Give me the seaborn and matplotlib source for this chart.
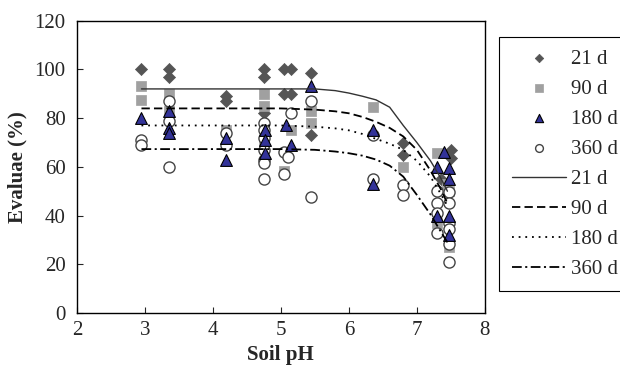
import pandas as pd
import matplotlib
matplotlib.use("Agg")
import matplotlib.pyplot as plt
import seaborn as sns

# measured points: soil pH vs Evaluae (%)
ph_21 = [2.95, 3.35, 3.35, 4.2, 4.2, 4.75, 4.75, 4.75, 5.05, 5.05, 5.15, 5.15, 5.45, 5.45, 6.8, 6.8, 7.35, 7.5, 7.5]
val_21 = [100, 100, 97, 89, 87, 100, 97, 82, 100, 90, 100, 90, 98.5, 73, 70, 65, 55, 67, 63.5]

ph_90 = [2.95, 2.95, 3.35, 3.35, 4.2, 4.75, 4.75, 4.75, 5.15, 5.05, 5.45, 5.45, 6.35, 6.8, 7.3, 7.3, 7.45, 7.48, 7.48]
val_90 = [93, 87.5, 90, 83, 75, 90, 85, 70, 75, 58.5, 83, 78, 84.5, 60, 65.5, 37, 53, 50, 27]

ph_180 = [2.95, 3.35, 3.35, 3.35, 4.2, 4.2, 4.77, 4.77, 4.77, 5.08, 5.15, 5.45, 6.35, 6.35, 7.3, 7.3, 7.4, 7.48, 7.48, 7.48, 7.48]
val_180 = [80, 83, 76, 74, 72, 63, 75, 71, 65.5, 77, 69, 93, 75, 53, 60, 40, 66, 59.5, 55, 40, 32]

ph_360 = [2.95, 2.95, 3.35, 3.35, 3.35, 4.2, 4.2, 4.75, 4.75, 4.75, 4.75, 4.75, 4.75, 4.75,
          5.05, 5.1, 5.05, 5.15, 5.45, 5.45, 6.35, 6.35, 6.8, 6.8,
          7.3, 7.3, 7.3, 7.3, 7.48, 7.48, 7.48, 7.48, 7.48, 7.48]
val_360 = [71, 69, 87, 79, 60, 74, 69, 78, 75, 72, 67, 63, 61.5, 55,
           66, 64, 57, 82, 87, 47.5, 73, 55, 52.5, 48.5,
           50, 45, 41, 33, 49.5, 45, 37, 34.5, 28.5, 21]

# fitted curves
fit_ph = [2.95, 3.5, 4.0, 4.5, 5.0, 5.5, 5.8, 6.0, 6.2, 6.4, 6.6, 6.8, 7.0, 7.2, 7.35, 7.45]
fit_21 = [92, 92, 92, 92, 92, 92, 91.3, 90.3, 89, 87.5, 84.5, 77, 70, 62.5, 55.5, 50]
fit_90 = [84, 84, 84, 84, 84, 83.5, 82.8, 82, 80.5, 78.5, 76, 72.5, 67, 58.5, 51, 45]
fit_180 = [77, 77, 77, 77, 77, 76.5, 75.8, 75, 73.5, 71.5, 69.5, 67, 62.5, 56, 49, 44]
fit_360 = [67.3, 67.3, 67.3, 67.3, 67.3, 67, 66.3, 65.6, 64.6, 63, 60.5, 56, 48.5, 40.5, 33.5, 29]

labels = ["21 d", "90 d", "180 d", "360 d"]

sns.set_style("ticks")
plt.rcParams['font.family'] = ['Liberation Serif', 'DejaVu Serif']
plt.rcParams['lines.scale_dashes'] = False
plt.rcParams['xtick.direction'] = 'in'
plt.rcParams['ytick.direction'] = 'in'

fig = plt.figure(figsize=(6.2, 3.7), dpi=100)
ax = fig.add_axes([0.124, 0.154, 0.658, 0.79])

sns.scatterplot(x=ph_21, y=val_21, marker="D", s=38, color="#555555", edgecolor="#555555",
                linewidth=0.5, label=labels[0], ax=ax, zorder=2)
sns.scatterplot(x=ph_90, y=val_90, marker="s", s=55, color="#a0a0a0", edgecolor="#a0a0a0",
                linewidth=0.5, label=labels[1], ax=ax, zorder=2)
sns.scatterplot(x=ph_360, y=val_360, marker="o", s=64, color="white", edgecolor="#444444",
                linewidth=1.0, label=labels[3], ax=ax, zorder=2)
sns.scatterplot(x=ph_180, y=val_180, marker="^", s=72, color="#333399", edgecolor="black",
                linewidth=0.8, label=labels[2], ax=ax, zorder=2)

sns.lineplot(x=fit_ph, y=fit_21, color="#333333", linewidth=1.0, label=labels[0], ax=ax, zorder=3)
sns.lineplot(x=fit_ph, y=fit_90, color="black", linewidth=1.3, linestyle=(0, (6, 3)),
             label=labels[1], ax=ax, zorder=3)
sns.lineplot(x=fit_ph, y=fit_180, color="black", linewidth=1.3, linestyle=(0, (1.3, 3.5)),
             label=labels[2], ax=ax, zorder=3)
sns.lineplot(x=fit_ph, y=fit_360, color="black", linewidth=1.3, linestyle=(0, (7, 2.5, 1.5, 2.5)),
             label=labels[3], ax=ax, zorder=3)

ax.set_xlim(2, 8)
ax.set_ylim(0, 120)
ax.set_xticks(range(2, 9))
ax.set_yticks(range(0, 121, 20))
ax.tick_params(axis="y", labelsize=15, length=4, width=0.8, pad=8, right=False)
ax.tick_params(axis="x", labelsize=15, length=4, width=0.8, pad=6, top=False)
for sp in ax.spines.values():
    sp.set_color("black")
    sp.set_linewidth(1.0)
ax.set_xlabel("Soil pH", fontsize=15, fontweight="bold", labelpad=3)
ax.set_ylabel("Evaluae (%)", fontsize=15, fontweight="bold", labelpad=5)

h, l = ax.get_legend_handles_labels()
order = [0, 1, 3, 2, 4, 5, 6, 7]
leg = ax.legend([h[i] for i in order], [l[i] for i in order], loc="upper left",
                bbox_to_anchor=(1.035, 0.945), borderaxespad=0, fontsize=15,
                frameon=True, fancybox=False, edgecolor="black", framealpha=1,
                handlelength=2.6, handletextpad=0.25, labelspacing=0.5,
                borderpad=0.6, markerscale=0.7)
leg.get_frame().set_linewidth(0.8)

fig.savefig("out.png", dpi=100)
